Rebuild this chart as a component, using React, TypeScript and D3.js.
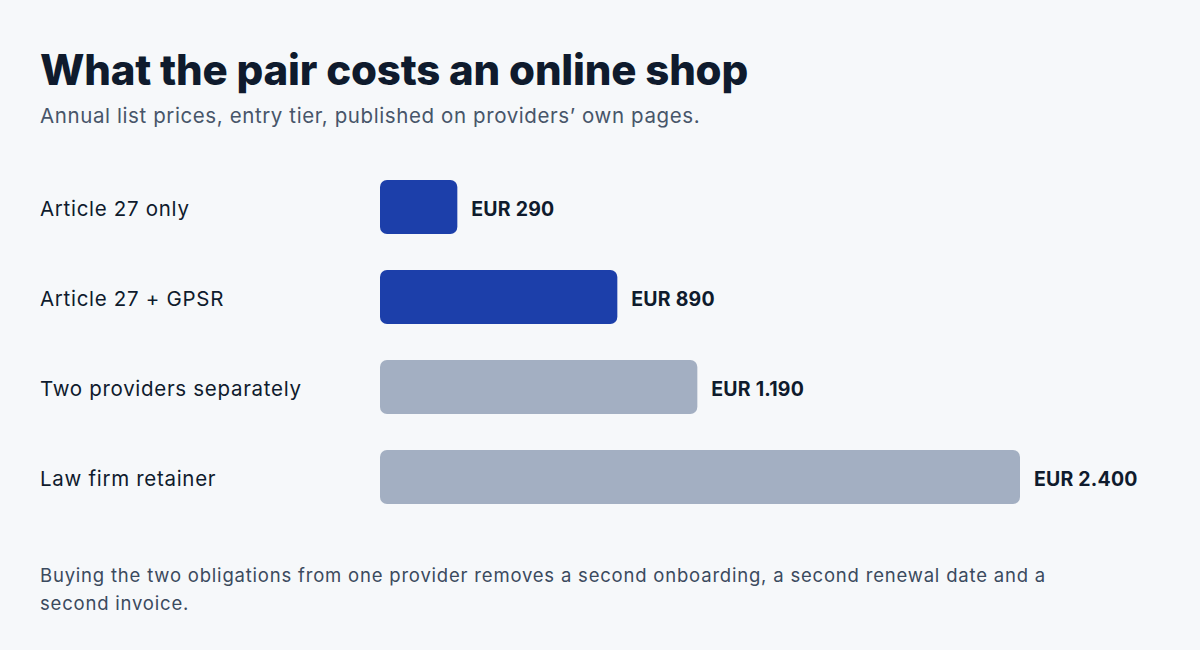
import { scaleBand, scaleLinear } from "d3";

const categories = [
  "Article 27 only",
  "Article 27 + GPSR",
  "Two providers separately",
  "Law firm retainer",
];
const prices = [290, 890, 1190, 2400];
const priceLabels = ["EUR 290", "EUR 890", "EUR 1.190", "EUR 2.400"];
const highlighted = [true, true, false, false];

const title = "What the pair costs an online shop";
const subtitle = "Annual list prices, entry tier, published on providers\u2019 own pages.";
const footnote = [
  "Buying the two obligations from one provider removes a second onboarding, a second renewal date and a",
  "second invoice.",
];

const FONT = "Inter, 'Open Sans', sans-serif";

const App = () => {
  const width = 1200;
  const height = 650;
  const barLeft = 380;

  const xScale = scaleLinear().domain([0, 2400]).range([0, 640]);
  const yScale = scaleBand()
    .domain(categories)
    .range([180, 504])
    .paddingInner(0.4)
    .paddingOuter(0);

  return (
    <svg
      width={width}
      height={height}
      style={{ position: "absolute", left: 0, top: 0, background: "#f6f8fa" }}
      fontFamily={FONT}
    >
      <rect width={width} height={height} fill="#f6f8fa" />
      <text x={40} y={85} fontSize={42} fontWeight={800} fill="#0f1b2d" letterSpacing={-0.2}>
        {title}
      </text>
      <text x={40} y={123} fontSize={20.5} fill="#475569" letterSpacing={0.6}>
        {subtitle}
      </text>

      {categories.map((c, i) => {
        const y = yScale(c) ?? 0;
        const h = yScale.bandwidth();
        const w = xScale(prices[i]);
        return (
          <g key={c}>
            <text
              x={40}
              y={y + h / 2}
              dy="0.45em"
              fontSize={20.5}
              fill="#0f1b2d"
              letterSpacing={0.7}
            >
              {c}
            </text>
            <rect
              x={barLeft}
              y={y}
              width={w}
              height={h}
              rx={7}
              fill={highlighted[i] ? "#1c3faa" : "#a3afc2"}
            />
            <text
              x={barLeft + w + 14}
              y={y + h / 2}
              dy="0.45em"
              fontSize={19.5}
              fontWeight={700}
              fill="#0f1b2d"
              letterSpacing={0.2}
            >
              {priceLabels[i]}
            </text>
          </g>
        );
      })}

      {footnote.map((line, i) => (
        <text key={i} x={40} y={582 + i * 28} fontSize={18.5} fill="#3b4a5e" letterSpacing={0.8}>
          {line}
        </text>
      ))}
    </svg>
  );
};

export default App;
